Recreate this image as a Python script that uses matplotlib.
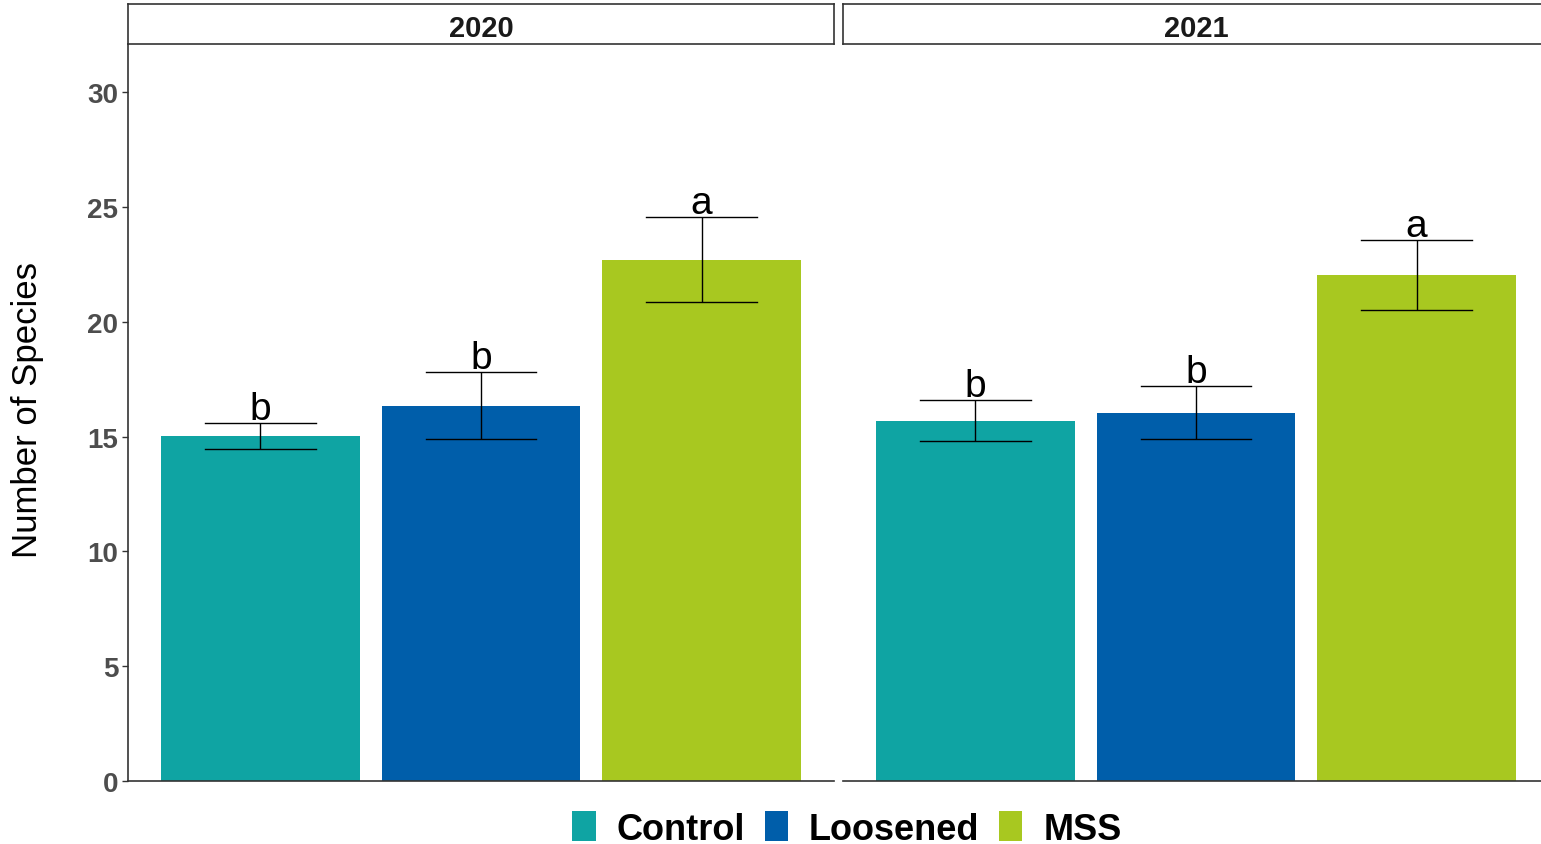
import matplotlib.pyplot as plt
from matplotlib.patches import Patch

plt.rcParams['font.family'] = ['Liberation Sans', 'DejaVu Sans']

years = ['2020', '2021']
treatments = ['Control', 'Loosened', 'MSS']
colors = ['#0FA4A3', '#005EAA', '#A8C820']

# mean number of species and standard error per year
means = {'2020': [15.01, 16.34, 22.70], '2021': [15.69, 16.04, 22.03]}
ses = {'2020': [0.57, 1.46, 1.84], '2021': [0.88, 1.15, 1.52]}
letters = {'2020': ['b', 'b', 'a'], '2021': ['b', 'b', 'a']}

W, H = 1541, 845
fig = plt.figure(figsize=(W / 100, H / 100), dpi=100)

def fx(px):
	return px / W

def fy(py):
	return 1 - py / H

panel_left = [128, 843]
panel_w = 706
top, bottom = 45, 782

for i, yr in enumerate(years):
	ax = fig.add_axes([fx(panel_left[i]), fy(bottom), panel_w / W, (bottom - top) / H])
	x = list(range(len(treatments)))
	ax.bar(x, means[yr], width=0.9, color=colors, zorder=2)
	ax.errorbar(x, means[yr], yerr=ses[yr], fmt='none', ecolor='black',
				elinewidth=1.0, capsize=0, zorder=3)
	for xi, m, s in zip(x, means[yr], ses[yr]):
		# caps drawn in data units so they span half a category
		ax.plot([xi - 0.25, xi + 0.25], [m + s, m + s], color='black', lw=1.0, zorder=3)
		ax.plot([xi - 0.25, xi + 0.25], [m - s, m - s], color='black', lw=1.0, zorder=3)
	for xi, m, s, lab in zip(x, means[yr], ses[yr], letters[yr]):
		ax.annotate(lab, (xi, m + s), xytext=(0, 3), textcoords='offset points',
					ha='center', va='baseline', fontsize=28, color='black')
	ax.set_xlim(-0.6, 2.6)
	ax.set_ylim(0, 32.09)
	ax.set_xticks([])
	for sp in ['top', 'right']:
		ax.spines[sp].set_visible(False)
	ax.spines['bottom'].set_color('#333333')
	ax.spines['bottom'].set_linewidth(1.2)
	if i == 0:
		ax.set_yticks(range(0, 31, 5))
		ax.tick_params(axis='y', length=4, width=1, color='#333333',
					   labelsize=20, labelcolor='#4D4D4D', pad=3)
		for t in ax.get_yticklabels():
			t.set_fontweight('bold')
		ax.spines['left'].set_color('#333333')
		ax.spines['left'].set_linewidth(1.2)
	else:
		ax.set_yticks([])
		ax.spines['left'].set_visible(False)

	# facet strip
	sax = fig.add_axes([fx(panel_left[i]), fy(45), panel_w / W, 40 / H])
	sax.set_xticks([])
	sax.set_yticks([])
	sax.set_facecolor('white')
	for sp in sax.spines.values():
		sp.set_color('#333333')
		sp.set_linewidth(1.2)
	sax.text(0.5, 0.4, yr, transform=sax.transAxes, ha='center', va='center',
			 fontsize=21, fontweight='bold', color='#1A1A1A')

fig.text(fx(28), fy(410), 'Number of Species', rotation=90, ha='center', va='center',
		 fontsize=25, color='black')

handles = [Patch(facecolor=c, edgecolor='none') for c in colors]
leg = fig.legend(handles, treatments, loc='center', bbox_to_anchor=(fx(847), fy(830)),
				 ncol=3, frameon=False, fontsize=26, handlelength=0.64, handleheight=0.9,
				 handletextpad=0.58, columnspacing=0.55, borderpad=0)
for t in leg.get_texts():
	t.set_fontweight('bold')

fig.savefig('out.png', dpi=100)
